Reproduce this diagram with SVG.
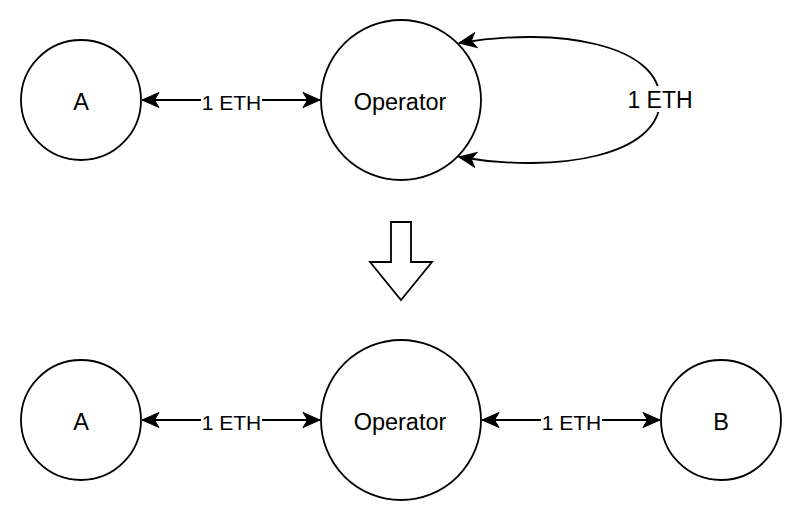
<svg xmlns="http://www.w3.org/2000/svg" width="802" height="522" viewBox="0 0 802 522">
<style>
.node{fill:#fff;stroke:#000;stroke-width:1.8}
.nl{font-family:"Liberation Sans",Arial,sans-serif;font-size:23.5px;text-anchor:middle;fill:#000}
.ll{font-family:"Liberation Sans",Arial,sans-serif;font-size:23px;text-anchor:middle;fill:#000}
.el{font-family:"Liberation Sans",Arial,sans-serif;font-size:21px;text-anchor:middle;fill:#000}
.edge{fill:none;stroke:#000;stroke-width:1.8}
</style>
<defs>
<marker id="arr" markerUnits="userSpaceOnUse" markerWidth="20" markerHeight="20" viewBox="-18 -10 20 20" refX="0" refY="0" orient="auto-start-reverse">
<path d="M0,0 L-17,-7.5 L-12.5,0 L-17,7.5 Z" fill="#000" stroke="#000" stroke-width="1"/>
</marker>
</defs>
<rect width="802" height="522" fill="#fff"/>
<g id="connectors">
<path class="edge" d="M142,100 H320" marker-start="url(#arr)" marker-end="url(#arr)"/>
<rect x="201" y="90" width="61" height="22" fill="#fff"/>
<text class="el" x="231.5" y="110">1 ETH</text>
<path class="edge" d="M459,43 C560,26 660,45 660,100 C660,155 560,174 459,157" marker-start="url(#arr)" marker-end="url(#arr)"/>
<rect x="626" y="86" width="69" height="26" fill="#fff"/>
<text class="ll" x="660" y="108">1 ETH</text>
<path class="edge" d="M142,420 H320" marker-start="url(#arr)" marker-end="url(#arr)"/>
<rect x="201" y="410" width="61" height="22" fill="#fff"/>
<text class="el" x="231.5" y="430">1 ETH</text>
<path class="edge" d="M482,420 H660" marker-start="url(#arr)" marker-end="url(#arr)"/>
<rect x="541" y="410" width="61" height="22" fill="#fff"/>
<text class="el" x="571.5" y="430">1 ETH</text>
</g>
<g id="nodeA1"><circle class="node" cx="81" cy="100" r="60"/><text class="nl" x="81" y="110">A</text></g>
<g id="operator1"><circle class="node" cx="401" cy="100" r="80"/><text class="nl" x="400" y="110">Operator</text></g>
<g id="transition"><polygon class="node" points="391,222 411,222 411,262 432,262 401,300 370,262 391,262"/></g>
<g id="nodeA2"><circle class="node" cx="81" cy="420" r="60"/><text class="nl" x="81" y="430">A</text></g>
<g id="operator2"><circle class="node" cx="401" cy="420" r="80"/><text class="nl" x="400" y="430">Operator</text></g>
<g id="nodeB"><circle class="node" cx="721" cy="420" r="60"/><text class="nl" x="721" y="430">B</text></g>
</svg>
